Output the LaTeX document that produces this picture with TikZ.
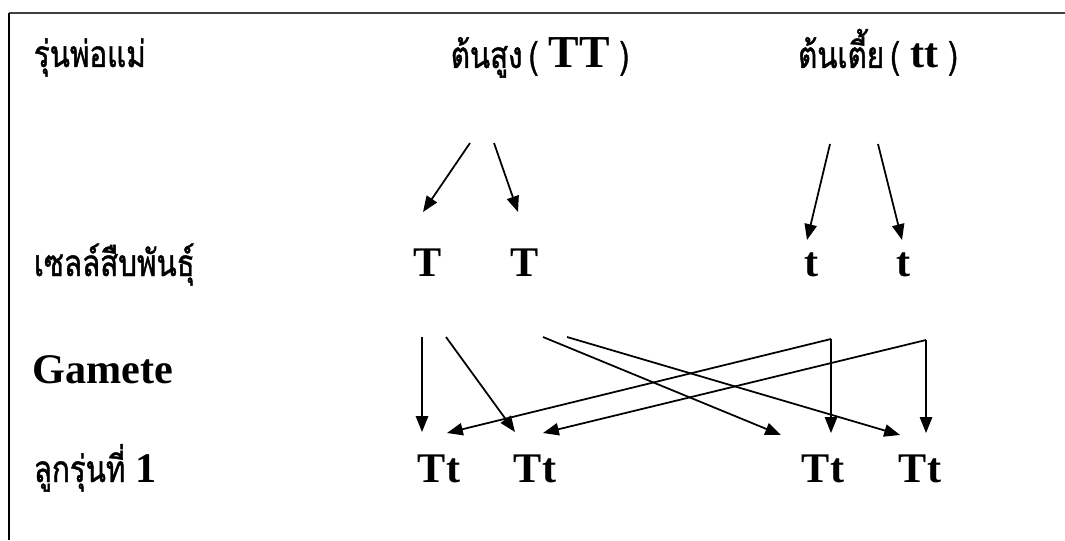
\documentclass[tikz,border=0pt]{standalone}
\usepackage{fontspec}
\setmainfont{Liberation Serif}
\newfontfamily\thaifont[Script=Thai, FakeStretch=0.8, FakeBold=1.2]{Loma}
\usetikzlibrary{arrows.meta}

\newcommand{\genefont}{\normalfont\bfseries\fontsize{12}{14}\selectfont}
\newcommand{\labfont}{\thaifont\fontsize{10.5}{12}\selectfont}

\tikzset{
    thai/.style={font=\labfont, inner sep=0pt},
    gene/.style={font=\genefont, inner sep=0pt, anchor=base},
}

\begin{document}
\begin{tikzpicture}[x=0.01cm, y=-0.01cm, >={Triangle[length=4.5pt, width=3.5pt]}, line width=0.5pt]
    \useasboundingbox (0,0) rectangle (1065,540);

    % 边框
    \draw[line width=0.8pt, black!75] (9,13) -- (1065,13);
    \draw (9,13) -- (9,540);

    % 左侧标题
    \node[thai, anchor=base west] (parents) at (33,67) {รุ่นพ่อแม่};
    \node[thai, anchor=base west] (gametes) at (33,276) {เซลล์สืบพันธุ์};
    \node[gene, anchor=base west] (gamete) at (32,383) {Gamete};
    \node[thai, anchor=base west] (offspring) at (33,482) {ลูกรุ่นที่ {\genefont 1}};

    % 亲代
    \node[thai, anchor=base] (tall) at (540,68) {ต้นสูง\,( {\genefont\fontsize{13}{14}\selectfont TT} )};
    \node[thai, anchor=base] (short) at (878,68) {ต้นเตี้ย\,( {\genefont tt} )};

    % 配子
    \node[gene] (T1) at (428,276) {T};
    \node[gene] (T2) at (525,276) {T};
    \node[gene] (t1) at (812,276) {t};
    \node[gene] (t2) at (904,276) {t};

    % 子一代
    \node[gene] (F1) at (439,482) {Tt};
    \node[gene] (F2) at (535,482) {Tt};
    \node[gene] (F3) at (823,482) {Tt};
    \node[gene] (F4) at (920,482) {Tt};

    % 亲代到配子的箭头
    \coordinate (tallL) at (470,143);
    \coordinate (tallR) at (494,143);
    \coordinate (shortL) at (830,144);
    \coordinate (shortR) at (878,144);
    \coordinate (T1in) at (423,212);
    \coordinate (T2in) at (518,212);
    \coordinate (t1in) at (807,240);
    \coordinate (t2in) at (902,240);
    \draw[->] (tallL) -- (T1in);
    \draw[->] (tallR) -- (T2in);
    \draw[->] (shortL) -- (t1in);
    \draw[->] (shortR) -- (t2in);

    % 配子结合
    \coordinate (T1a) at (422,337);
    \coordinate (T1b) at (446,337);
    \coordinate (T2a) at (543,337);
    \coordinate (T2b) at (567,337);
    \coordinate (t1o) at (831,339);
    \coordinate (t2o) at (926,340);
    \coordinate (F1a) at (422,432);
    \coordinate (F1b) at (447,433);
    \coordinate (F2a) at (515,432);
    \coordinate (F2b) at (543,433);
    \coordinate (F3a) at (781,435);
    \coordinate (F3b) at (831,433);
    \coordinate (F4a) at (900,435);
    \coordinate (F4b) at (926,433);
    \draw[->] (T1a) -- (F1a);
    \draw[->] (T1b) -- (F2a);
    \draw[->] (T2a) -- (F3a);
    \draw[->] (T2b) -- (F4a);
    \draw[->] (t1o) -- (F1b);
    \draw[->] (t1o) -- (F3b);
    \draw[->] (t2o) -- (F2b);
    \draw[->] (t2o) -- (F4b);
\end{tikzpicture}
\end{document}
